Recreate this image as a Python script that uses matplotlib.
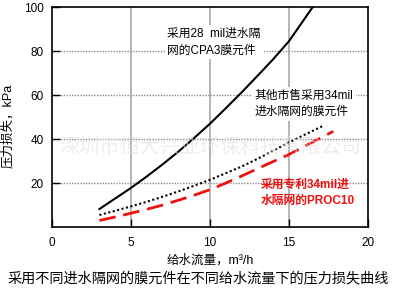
import matplotlib
matplotlib.use('Agg')
import matplotlib.pyplot as plt

plt.rcParams['font.family'] = ['Liberation Sans', 'Noto Sans CJK SC', 'DejaVu Sans']

# flow (m3/h) vs pressure loss (kPa)
cpa3_flow = [3, 4, 5, 6, 7, 8, 9, 10, 11, 12, 13, 14, 15, 16.5]
cpa3_loss = [8.2, 13, 17.8, 23, 28.5, 34.3, 40.5, 47, 54, 61.2, 68.7, 76.3, 84.5, 100]

other_flow = [3, 4, 5, 6, 7, 8, 9, 10, 11, 12, 13, 14, 15, 16, 17.1]
other_loss = [5.5, 7.4, 9.4, 11.5, 13.8, 16.2, 18.8, 21.5, 24.5, 27.5, 31, 34.7, 38.5, 42, 45.8]

proc10_flow = [3, 4, 5, 6, 7, 8, 9, 10, 11, 12, 13, 14, 15, 16, 17, 17.8]
proc10_loss = [3.0, 4.6, 6.3, 8.1, 10, 12.2, 14.5, 17, 20, 23.2, 26.5, 29.8, 33, 36.8, 40.5, 43.5]

x_ticks = [0, 5, 10, 15, 20]
y_ticks = [20, 40, 60, 80, 100]

fig = plt.figure(figsize=(3.97, 2.93), dpi=100)
ax = fig.add_axes([0.131, 0.225, 0.796, 0.751])

ax.set_xlim(0, 20)
ax.set_ylim(0, 100)
ax.set_xticks(x_ticks)
ax.set_yticks(y_ticks)

for x in [5, 10, 15]:
    ax.axvline(x, color='#a8a8a8', lw=1.2, zorder=0)
for y in [20, 40, 60, 80]:
    ax.axhline(y, color='#8c8c8c', lw=1.0, ls=(0, (1, 1)), zorder=0)

ax.plot(cpa3_flow, cpa3_loss, color='black', lw=1.5, zorder=3)
ax.plot(other_flow, other_loss, color='black', lw=1.5, ls=(0, (1, 1.2)), zorder=3)
ax.plot(proc10_flow, proc10_loss, color='#ee1111', lw=2.0, ls=(0, (6, 2.8)), zorder=3)

ax.tick_params(axis='both', direction='in', length=6, width=1, labelsize=8.5, pad=7)
ax.tick_params(axis='y', pad=6)
for s in ax.spines.values():
    s.set_linewidth(1.2)

ax.text(7.3, 84, '采用28  mil进水隔\n网的CPA3膜元件', fontsize=8.5, linespacing=1.5,
        ha='left', va='center', zorder=2,
        bbox=dict(facecolor='white', edgecolor='none', pad=2))
ax.text(12.8, 56, '其他市售采用34mil\n进水隔网的膜元件', fontsize=8.5, linespacing=1.5,
        ha='left', va='center', zorder=2,
        bbox=dict(facecolor='white', edgecolor='none', pad=2))
ax.text(13.2, 15.5, '采用专利34mil进\n水隔网的PROC10', fontsize=8.5, linespacing=1.5,
        ha='left', va='center', color='#ee1111', fontweight='bold', zorder=4)

ax.text(10, 36, '深圳市恒大兴业环保科技有限公司', fontsize=14.5, color='#e2e2e2',
        alpha=0.6, ha='center', va='center', zorder=5)

ax.set_xlabel('给水流量，m³/h', fontsize=9, labelpad=4)
ax.set_ylabel('压力损失，kPa', fontsize=9)
ax.yaxis.set_label_coords(-0.12, 0.46)

fig.text(0.5, 0.05, '采用不同进水隔网的膜元件在不同给水流量下的压力损失曲线',
         fontsize=10.2, ha='center', va='center')

fig.savefig('out.png', dpi=100)
